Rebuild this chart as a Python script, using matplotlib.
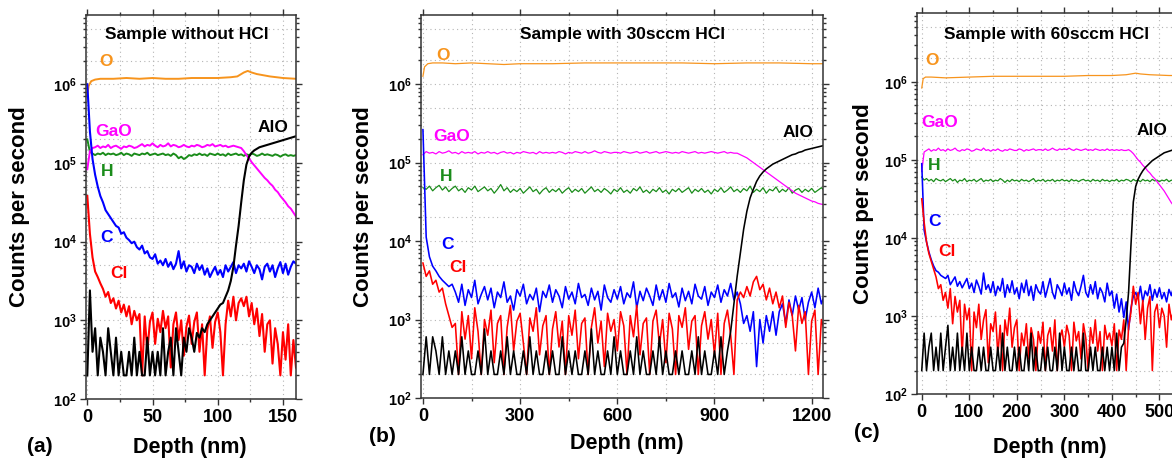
import numpy as np
import matplotlib
matplotlib.use("Agg")
import matplotlib.pyplot as plt
from matplotlib.ticker import FixedLocator, FuncFormatter, LogLocator, MultipleLocator

plt.rcParams['font.family'] = ['Liberation Sans', 'DejaVu Sans']
plt.rcParams['mathtext.fontset'] = 'custom'
plt.rcParams['mathtext.rm'] = 'Liberation Sans'
plt.rcParams['mathtext.bf'] = 'Liberation Sans:bold'

# ---------------- data (log10 of counts per second) ----------------
# panel (a): sample without HCl, depth grid 0..160 nm step 2
depth_a = np.arange(0, 161, 2)
a_o_depth = [0, 1, 3, 6, 10, 20, 30, 40, 50, 60, 70, 80, 90, 100, 110, 115, 120, 123, 126, 130, 140, 150, 160]
a_o = [5.86, 5.98, 6.04, 6.06, 6.07, 6.07, 6.08, 6.07, 6.08, 6.07, 6.07, 6.08, 6.08, 6.08,
       6.09, 6.10, 6.15, 6.17, 6.15, 6.13, 6.10, 6.08, 6.07]
a_gao = [4.92, 5.15, 5.19, 5.20, 5.22, 5.19, 5.21, 5.20, 5.23, 5.19,
         5.21, 5.22, 5.20, 5.18, 5.21, 5.20, 5.22, 5.21, 5.19, 5.20,
         5.22, 5.24, 5.21, 5.23, 5.22, 5.25, 5.22, 5.20, 5.23, 5.21,
         5.22, 5.25, 5.21, 5.23, 5.22, 5.20, 5.21, 5.23, 5.21, 5.20,
         5.22, 5.21, 5.23, 5.22, 5.20, 5.21, 5.23, 5.22, 5.24, 5.21,
         5.22, 5.23, 5.21, 5.22, 5.20, 5.21, 5.22, 5.21, 5.20, 5.19,
         5.15, 5.10, 5.06, 5.01, 4.97, 4.93, 4.89, 4.85, 4.81, 4.78,
         4.74, 4.71, 4.66, 4.63, 4.58, 4.54, 4.50, 4.45, 4.42, 4.37,
         4.32]
a_h = [5.30, 5.14, 5.12, 5.10, 5.12, 5.11, 5.13, 5.10, 5.12, 5.11,
       5.12, 5.10, 5.11, 5.13, 5.10, 5.12, 5.11, 5.09, 5.12, 5.11,
       5.10, 5.12, 5.11, 5.13, 5.10, 5.11, 5.12, 5.10, 5.11, 5.12,
       5.10, 5.11, 5.09, 5.12, 5.10, 5.06, 5.08, 5.05, 5.07, 5.10,
       5.09, 5.11, 5.10, 5.12, 5.10, 5.11, 5.09, 5.12, 5.11, 5.10,
       5.12, 5.10, 5.11, 5.09, 5.12, 5.10, 5.11, 5.12, 5.10, 5.11,
       5.09, 5.11, 5.10, 5.12, 5.11, 5.09, 5.10, 5.12, 5.10, 5.11,
       5.10, 5.09, 5.11, 5.10, 5.08, 5.10, 5.11, 5.09, 5.10, 5.09,
       5.10]
a_c = [6.00, 5.40, 5.05, 4.85, 4.70, 4.58, 4.50, 4.40, 4.35, 4.30,
       4.25, 4.20, 4.18, 4.10, 4.12, 4.05, 4.02, 3.98, 4.00, 3.93,
       3.90, 3.95, 3.85, 3.88, 3.80, 3.78, 3.84, 3.72, 3.76, 3.70,
       3.78, 3.68, 3.74, 3.65, 3.72, 3.88, 3.66, 3.75, 3.62, 3.70,
       3.68, 3.60, 3.72, 3.64, 3.70, 3.58, 3.66, 3.55, 3.62, 3.68,
       3.58, 3.64, 3.55, 3.70, 3.62, 3.68, 3.74, 3.60, 3.70, 3.66,
       3.72, 3.62, 3.75, 3.68, 3.60, 3.70, 3.65, 3.52, 3.68, 3.72,
       3.62, 3.70, 3.55, 3.66, 3.74, 3.60, 3.72, 3.58, 3.68, 3.75,
       3.72]
a_cl = [4.58, 4.10, 3.80, 3.62, 3.55, 3.47, 3.40, 3.30, 3.36, 3.22,
        3.28, 3.15, 3.25, 3.10, 3.20, 3.05, 3.18, 2.95, 3.12, 3.00,
        3.08, 2.30, 3.05, 2.60, 2.98, 3.10, 2.70, 3.02, 2.85, 3.12,
        2.90, 3.05, 2.40, 2.95, 3.10, 2.75, 3.00, 2.55, 2.92, 3.06,
        2.70, 2.98, 3.10, 2.60, 2.95, 2.30, 2.88, 3.05, 2.65, 2.98,
        3.10, 2.85, 2.30, 2.95, 3.25, 3.05, 3.30, 3.00, 3.22, 3.28,
        3.18, 3.30, 3.05, 3.22, 2.95, 3.15, 2.80, 3.08, 2.60, 2.95,
        3.00, 2.45, 2.90, 2.70, 2.30, 2.85, 2.50, 2.95, 2.30, 2.75,
        2.40]
a_alo = [2.30, 3.38, 2.60, 2.90, 2.30, 2.78, 2.60, 2.30, 2.90, 2.60,
         2.30, 2.78, 2.30, 2.60, 2.30, 2.30, 2.60, 2.30, 2.78, 2.30,
         2.60, 2.30, 2.30, 2.78, 2.30, 2.60, 2.30, 2.60, 2.30, 2.90,
         2.30, 2.60, 2.78, 2.30, 2.90, 2.60, 2.30, 2.78, 2.60, 2.90,
         2.78, 2.60, 2.84, 2.78, 2.90, 2.85, 2.95, 3.00, 3.05, 3.10,
         3.15, 3.20, 3.22, 3.30, 3.38, 3.50, 3.68, 3.95, 4.20, 4.50,
         4.78, 4.98, 5.08, 5.13, 5.16, 5.18, 5.20, 5.21, 5.22, 5.23,
         5.24, 5.25, 5.26, 5.27, 5.28, 5.29, 5.30, 5.31, 5.32, 5.33,
         5.34]

# panel (b): sample with 30sccm HCl, depth grid 0..1240 nm step 10
depth_b = np.arange(0, 1241, 10)
b_o_depth = [0, 5, 15, 30, 60, 100, 150, 200, 250, 300, 400, 500, 600, 700, 800, 900, 1000, 1100, 1200, 1240]
b_o = [6.10, 6.22, 6.26, 6.27, 6.27, 6.26, 6.27, 6.26, 6.25, 6.26, 6.26, 6.27, 6.27, 6.27,
       6.27, 6.26, 6.27, 6.27, 6.26, 6.26]
b_gao = [5.10, 5.14, 5.12, 5.13, 5.11, 5.14, 5.12, 5.13, 5.15, 5.12,
         5.13, 5.11, 5.14, 5.12, 5.13, 5.12, 5.14, 5.11, 5.13, 5.12,
         5.14, 5.12, 5.13, 5.11, 5.13, 5.14, 5.12, 5.13, 5.11, 5.13,
         5.12, 5.14, 5.13, 5.12, 5.13, 5.11, 5.14, 5.12, 5.13, 5.12,
         5.13, 5.12, 5.14, 5.13, 5.11, 5.13, 5.12, 5.14, 5.13, 5.12,
         5.14, 5.12, 5.13, 5.15, 5.13, 5.12, 5.14, 5.13, 5.12, 5.13,
         5.13, 5.12, 5.14, 5.13, 5.12, 5.13, 5.14, 5.12, 5.13, 5.14,
         5.12, 5.13, 5.14, 5.12, 5.13, 5.14, 5.13, 5.12, 5.13, 5.12,
         5.14, 5.13, 5.12, 5.13, 5.14, 5.12, 5.13, 5.12, 5.13, 5.14,
         5.13, 5.12, 5.13, 5.14, 5.12, 5.13, 5.12, 5.12, 5.10, 5.08,
         5.06, 5.03, 5.00, 4.97, 4.94, 4.91, 4.88, 4.85, 4.82, 4.79,
         4.76, 4.73, 4.70, 4.67, 4.64, 4.61, 4.59, 4.57, 4.55, 4.53,
         4.51, 4.50, 4.48, 4.47, 4.46]
b_h = [4.68, 4.66, 4.70, 4.64, 4.68, 4.71, 4.65, 4.69, 4.63, 4.67,
       4.70, 4.64, 4.67, 4.62, 4.68, 4.65, 4.70, 4.63, 4.66, 4.69,
       4.64, 4.67, 4.61, 4.66, 4.72, 4.64, 4.68, 4.62, 4.66, 4.63,
       4.67, 4.61, 4.65, 4.69, 4.63, 4.66, 4.60, 4.65, 4.68, 4.62,
       4.66, 4.63, 4.67, 4.61, 4.65, 4.68, 4.62, 4.66, 4.63, 4.67,
       4.61, 4.65, 4.69, 4.63, 4.66, 4.62, 4.67, 4.64, 4.60, 4.66,
       4.63, 4.68, 4.62, 4.65, 4.61, 4.67, 4.64, 4.69, 4.62, 4.65,
       4.61, 4.66, 4.63, 4.68, 4.62, 4.65, 4.60, 4.66, 4.63, 4.67,
       4.62, 4.65, 4.68, 4.61, 4.66, 4.63, 4.67, 4.62, 4.65, 4.60,
       4.66, 4.63, 4.68, 4.62, 4.65, 4.69, 4.63, 4.66, 4.62, 4.67,
       4.64, 4.70, 4.62, 4.66, 4.63, 4.68, 4.61, 4.66, 4.64, 4.69,
       4.62, 4.66, 4.63, 4.68, 4.61, 4.65, 4.67, 4.62, 4.66, 4.63,
       4.67, 4.62, 4.65, 4.68, 4.64]
b_c = [5.42, 4.05, 3.80, 3.68, 3.62, 3.55, 3.50, 3.46, 3.42, 3.45,
       3.35, 3.22, 3.45, 3.18, 3.38, 3.28, 3.50, 3.20, 3.32, 3.42,
       3.25, 3.40, 3.15, 3.35, 3.28, 3.48, 3.22, 3.30, 3.12, 3.38,
       3.30, 3.45, 3.20, 3.32, 3.25, 3.40, 3.10, 3.36, 3.28, 3.44,
       3.22, 3.38, 3.30, 3.15, 3.42, 3.26, 3.35, 3.20, 3.46, 3.28,
       3.32, 3.18, 3.40, 3.25, 3.36, 3.12, 3.44, 3.28, 3.22, 3.38,
       3.26, 3.42, 3.20, 3.34, 3.28, 3.48, 3.15, 3.36, 3.24, 3.40,
       3.30, 3.18, 3.44, 3.25, 3.38, 3.22, 3.46, 3.28, 3.34, 3.16,
       3.40, 3.24, 3.36, 3.20, 3.45, 3.30, 3.26, 3.42, 3.18, 3.35,
       3.28, 3.44, 3.22, 3.38, 3.30, 3.46, 3.25, 3.35, 3.20, 2.95,
       3.05, 2.85, 3.10, 2.40, 3.00, 2.70, 3.05, 2.85, 3.10, 2.80,
       3.10, 3.20, 2.95, 3.25, 3.05, 3.30, 3.12, 3.28, 3.00, 3.22,
       3.35, 3.15, 3.40, 3.20, 3.32]
b_cl = [3.72, 3.55, 3.62, 3.45, 3.50, 3.35, 3.40, 3.20, 3.05, 2.90,
        2.95, 2.30, 3.10, 2.75, 3.05, 2.50, 3.15, 2.85, 2.30, 3.00,
        2.80, 3.12, 2.45, 2.95, 3.05, 2.30, 2.90, 3.18, 2.60, 2.98,
        3.08, 2.70, 2.30, 3.02, 2.85, 3.15, 2.55, 2.92, 3.05, 2.30,
        2.88, 3.10, 2.65, 2.98, 2.30, 3.05, 2.80, 3.12, 2.50, 2.95,
        3.02, 2.30, 2.90, 3.15, 2.70, 2.98, 2.40, 3.08, 2.85, 3.00,
        2.60, 3.10, 2.92, 2.30, 3.05, 2.78, 3.18, 2.55, 2.95, 3.02,
        2.30, 2.98, 3.12, 2.68, 3.00, 2.45, 3.08, 2.88, 2.30, 3.05,
        2.90, 3.15, 2.62, 2.98, 3.05, 2.30, 2.92, 3.10, 2.75, 3.00,
        2.55, 3.08, 2.30, 2.95, 3.12, 2.80, 2.30, 3.25, 3.35, 3.28,
        3.42, 3.30, 3.48, 3.55, 3.38, 3.45, 3.25, 3.40, 3.20, 3.35,
        3.15, 3.30, 2.90, 3.22, 3.05, 2.60, 3.18, 2.95, 3.10, 2.30,
        2.98, 3.12, 2.30, 3.00, 2.85]
b_alo = [2.30, 2.78, 2.30, 2.78, 2.60, 2.30, 2.78, 2.30, 2.60, 2.30,
         2.60, 2.30, 2.78, 2.30, 2.60, 2.30, 2.30, 2.60, 2.30, 2.88,
         2.30, 2.60, 2.30, 2.30, 2.60, 2.30, 2.78, 2.30, 2.60, 2.30,
         2.30, 2.60, 2.30, 2.78, 2.30, 2.60, 2.30, 2.30, 2.60, 2.30,
         2.60, 2.30, 2.30, 2.78, 2.30, 2.60, 2.30, 2.60, 2.30, 2.30,
         2.60, 2.30, 2.88, 2.30, 2.60, 2.30, 2.30, 2.60, 2.30, 2.78,
         2.30, 2.60, 2.30, 2.30, 2.60, 2.30, 2.78, 2.30, 2.60, 2.30,
         2.30, 2.60, 2.30, 2.78, 2.30, 2.60, 2.30, 2.30, 2.60, 2.30,
         2.60, 2.30, 2.30, 2.60, 2.30, 2.78, 2.30, 2.60, 2.30, 2.30,
         2.60, 2.30, 2.78, 2.30, 2.60, 2.85, 3.20, 3.55, 3.85, 4.15,
         4.38, 4.55, 4.66, 4.76, 4.83, 4.88, 4.92, 4.95, 4.98, 5.00,
         5.02, 5.04, 5.06, 5.08, 5.10, 5.11, 5.13, 5.14, 5.16, 5.17,
         5.18, 5.19, 5.20, 5.21, 5.22]

# panel (c): sample with 60sccm HCl, depth grid 0..600 nm step 5
depth_c = np.arange(0, 601, 5)
c_o_depth = [0, 3, 8, 20, 50, 100, 150, 200, 250, 300, 350, 400, 430, 450, 460, 480, 520, 560, 600]
c_o = [5.92, 6.04, 6.06, 6.06, 6.05, 6.06, 6.07, 6.07, 6.07, 6.07, 6.08, 6.08, 6.09, 6.11,
       6.10, 6.09, 6.08, 6.08, 6.07]
c_gao = [4.85, 5.10, 5.12, 5.14, 5.11, 5.13, 5.12, 5.15, 5.12, 5.13,
         5.11, 5.14, 5.12, 5.13, 5.15, 5.12, 5.11, 5.13, 5.12, 5.14,
         5.13, 5.11, 5.12, 5.14, 5.13, 5.12, 5.15, 5.12, 5.13, 5.11,
         5.13, 5.12, 5.14, 5.12, 5.11, 5.13, 5.12, 5.14, 5.13, 5.12,
         5.12, 5.14, 5.13, 5.11, 5.13, 5.12, 5.13, 5.14, 5.12, 5.13,
         5.13, 5.12, 5.14, 5.12, 5.13, 5.15, 5.13, 5.12, 5.14, 5.13,
         5.14, 5.13, 5.15, 5.13, 5.12, 5.14, 5.13, 5.12, 5.13, 5.14,
         5.12, 5.13, 5.12, 5.14, 5.13, 5.12, 5.13, 5.12, 5.14, 5.12,
         5.13, 5.12, 5.13, 5.12, 5.13, 5.12, 5.12, 5.13, 5.11, 5.08,
         5.04, 5.00, 4.97, 4.93, 4.90, 4.86, 4.83, 4.79, 4.76, 4.72,
         4.68, 4.64, 4.60, 4.55, 4.50, 4.45, 4.41, 4.38, 4.35, 4.33,
         4.30, 4.28, 4.26, 4.24, 4.22, 4.21, 4.20, 4.18, 4.17, 4.16,
         4.15]
c_h = [4.78, 4.74, 4.76, 4.73, 4.75, 4.72, 4.76, 4.74, 4.73, 4.75,
       4.72, 4.74, 4.76, 4.73, 4.75, 4.71, 4.74, 4.73, 4.76, 4.72,
       4.74, 4.73, 4.75, 4.72, 4.74, 4.76, 4.72, 4.74, 4.73, 4.75,
       4.72, 4.74, 4.73, 4.76, 4.74, 4.71, 4.74, 4.72, 4.75, 4.73,
       4.74, 4.72, 4.75, 4.73, 4.74, 4.72, 4.74, 4.76, 4.72, 4.74,
       4.73, 4.75, 4.72, 4.74, 4.73, 4.75, 4.72, 4.74, 4.73, 4.75,
       4.73, 4.74, 4.72, 4.75, 4.73, 4.74, 4.72, 4.74, 4.75, 4.73,
       4.74, 4.72, 4.75, 4.73, 4.74, 4.72, 4.75, 4.73, 4.74, 4.72,
       4.74, 4.73, 4.75, 4.72, 4.74, 4.73, 4.75, 4.74, 4.72, 4.75,
       4.73, 4.74, 4.72, 4.75, 4.73, 4.74, 4.72, 4.75, 4.73, 4.74,
       4.72, 4.74, 4.73, 4.75, 4.72, 4.74, 4.73, 4.75, 4.72, 4.74,
       4.73, 4.75, 4.72, 4.74, 4.73, 4.75, 4.72, 4.74, 4.73, 4.75,
       4.74]
c_c = [4.95, 4.10, 3.95, 3.82, 3.72, 3.64, 3.58, 3.56, 3.52, 3.50,
       3.48, 3.52, 3.40, 3.45, 3.50, 3.38, 3.44, 3.36, 3.42, 3.48,
       3.35, 3.42, 3.30, 3.46, 3.38, 3.28, 3.55, 3.34, 3.40, 3.30,
       3.44, 3.26, 3.38, 3.32, 3.48, 3.24, 3.40, 3.30, 3.45, 3.28,
       3.36, 3.22, 3.42, 3.30, 3.46, 3.26, 3.38, 3.20, 3.40, 3.32,
       3.28, 3.44, 3.24, 3.36, 3.48, 3.30, 3.22, 3.40, 3.34, 3.26,
       3.42, 3.28, 3.36, 3.20, 3.44, 3.32, 3.26, 3.38, 3.52, 3.30,
       3.24, 3.40, 3.28, 3.44, 3.22, 3.36, 3.30, 3.18, 3.42, 3.26,
       3.32, 3.10, 3.28, 3.05, 3.22, 2.98, 3.18, 2.82, 3.10, 3.25,
       3.30, 3.22, 3.38, 3.18, 3.32, 3.26, 3.40, 3.20, 3.34, 3.24,
       3.36, 3.22, 3.30, 3.18, 3.34, 3.26, 3.38, 3.20, 3.32, 3.28,
       3.24, 3.36, 3.20, 3.32, 3.28, 3.38, 3.22, 3.30, 3.26, 3.34,
       3.30]
c_cl = [4.50, 4.20, 3.95, 3.80, 3.70, 3.60, 3.50, 3.35, 3.40, 3.20,
        3.30, 3.10, 3.35, 2.90, 3.25, 3.05, 3.20, 2.50, 3.15, 2.95,
        3.10, 2.30, 3.05, 2.85, 3.15, 2.70, 2.95, 3.08, 2.40, 2.90,
        2.80, 3.05, 2.50, 2.88, 2.30, 2.95, 2.75, 3.10, 2.60, 2.85,
        2.95, 2.30, 2.78, 2.62, 2.90, 2.45, 2.85, 2.70, 2.30, 2.80,
        2.65, 2.92, 2.30, 2.75, 2.85, 2.55, 2.95, 2.30, 2.70, 2.82,
        2.60, 2.88, 2.75, 2.30, 2.92, 2.68, 2.80, 2.45, 2.90, 2.72,
        2.30, 2.85, 2.65, 2.95, 2.55, 2.80, 2.30, 2.88, 2.70, 2.78,
        2.62, 2.90, 2.30, 2.82, 2.70, 2.95, 2.30, 2.85, 3.05, 3.38,
        3.15, 3.30, 2.90, 3.20, 2.70, 3.10, 3.25, 2.30, 3.05, 3.15,
        2.85, 3.10, 3.00, 2.60, 3.15, 2.95, 3.08, 2.75, 3.02, 2.90,
        3.05, 2.80, 3.10, 2.55, 2.98, 3.08, 2.85, 3.00, 2.70, 2.95,
        2.90]
c_alo = [2.30, 2.78, 2.30, 2.60, 2.78, 2.30, 2.60, 2.30, 2.78, 2.30,
         2.60, 2.88, 2.30, 2.60, 2.30, 2.78, 2.30, 2.60, 2.30, 2.78,
         2.30, 2.60, 2.30, 2.30, 2.60, 2.30, 2.60, 2.30, 2.30, 2.60,
         2.30, 2.30, 2.60, 2.30, 2.78, 2.30, 2.60, 2.30, 2.30, 2.60,
         2.30, 2.60, 2.30, 2.30, 2.60, 2.30, 2.78, 2.30, 2.60, 2.30,
         2.30, 2.60, 2.30, 2.60, 2.30, 2.30, 2.60, 2.30, 2.78, 2.30,
         2.60, 2.30, 2.30, 2.60, 2.30, 2.60, 2.30, 2.30, 2.78, 2.30,
         2.30, 2.60, 2.30, 2.60, 2.30, 2.30, 2.60, 2.30, 2.60, 2.30,
         2.60, 2.30, 2.78, 2.30, 2.60, 2.65, 2.95, 3.30, 3.90, 4.46,
         4.66, 4.75, 4.81, 4.86, 4.90, 4.93, 4.96, 4.99, 5.01, 5.03,
         5.05, 5.07, 5.09, 5.10, 5.11, 5.12, 5.13, 5.14, 5.15, 5.16,
         5.17, 5.17, 5.18, 5.19, 5.19, 5.20, 5.20, 5.21, 5.21, 5.22,
         5.22]

titles = ['Sample without HCl', 'Sample with 30sccm HCl', 'Sample with 60sccm HCl']
panel_tags = ['(a)', '(b)', '(c)']
species = ['O', 'GaO', 'H', 'C', 'Cl', 'AlO']
colors = {'O': '#F7941D', 'GaO': '#FF00FF', 'H': '#1A8C1A', 'C': '#0000FF', 'Cl': '#FF0000', 'AlO': '#000000'}

# ---------------- figure ----------------
W, H = 1172, 458
fig = plt.figure(figsize=(W / 100, H / 100), dpi=100)


def box(left, top, right, bottom):
    return fig.add_axes([left / W, 1 - bottom / H, (right - left) / W, (bottom - top) / H])


ax_a = box(86, 15, 296, 399)
ax_b = box(421, 15, 823, 398)
ax_c = box(917, 13, 1207, 394)

# (axes, depth grid, O trace, GaO, H, C, Cl, AlO, xlim, major, minor, smooth lw, noisy lw)
panels = [
    (ax_a, depth_a, (a_o_depth, a_o), a_gao, a_h, a_c, a_cl, a_alo, (-1, 160), 50, 25, 1.4, 1.5),
    (ax_b, depth_b, (b_o_depth, b_o), b_gao, b_h, b_c, b_cl, b_alo, (-6, 1235), 300, 150, 0.9, 1.15),
    (ax_c, depth_c, (c_o_depth, c_o), c_gao, c_h, c_c, c_cl, c_alo, (-10, 600), 100, 50, 0.9, 1.15),
]

for ax, depth, o_pair, gao, h, c, cl, alo, xlim, xmaj, xmin, lw, lw_noisy in panels:
    ax.plot(o_pair[0], 10 ** np.array(o_pair[1]), color=colors['O'], lw=lw)
    ax.plot(depth, 10 ** np.array(h), color=colors['H'], lw=lw)
    ax.plot(depth, 10 ** np.array(gao), color=colors['GaO'], lw=lw)
    ax.plot(depth, 10 ** np.array(c), color=colors['C'], lw=lw_noisy)
    ax.plot(depth, 10 ** np.array(cl), color=colors['Cl'], lw=lw_noisy)
    ax.plot(depth, 10 ** np.array(alo), color=colors['AlO'], lw=lw_noisy)

    ax.set_yscale('log')
    ax.set_ylim(1e2, 7.6e6)
    ax.set_xlim(*xlim)
    ax.yaxis.set_major_locator(FixedLocator([1e2, 1e3, 1e4, 1e5, 1e6]))
    ax.yaxis.set_minor_locator(LogLocator(base=10, subs=np.arange(2, 10)))
    ax.yaxis.set_major_formatter(FuncFormatter(lambda v, p: r'$\mathbf{10^{%d}}$' % round(np.log10(v))))
    ax.yaxis.set_minor_formatter(FuncFormatter(lambda v, p: ''))
    ax.xaxis.set_major_locator(MultipleLocator(xmaj))
    ax.xaxis.set_minor_locator(MultipleLocator(xmin))

    ax.tick_params(which='both', direction='out', top=True, right=True, width=1, color='#333333')
    ax.tick_params(which='major', length=4.5, pad=3)
    ax.tick_params(which='minor', length=2.5)
    ax.tick_params(axis='x', labelsize=13)
    ax.tick_params(axis='y', labelsize=10.5, pad=2)
    for lab in ax.get_xticklabels():
        lab.set_fontweight('bold')
    for sp in ax.spines.values():
        sp.set_color('#333333')
        sp.set_linewidth(1.1)

    grid_kw = dict(color='#b5b5b5', lw=0.8, ls=(0, (1, 3)))
    ax.grid(which='major', **grid_kw)
    ax.grid(which='minor', axis='x', **grid_kw)
    for dec in [1e2, 1e3, 1e4, 1e5, 1e6]:
        for m in (2, 5):
            ax.axhline(dec * m, zorder=0, **grid_kw)
    ax.set_axisbelow(True)

# species labels (depth, log10 counts)
label_pos = [
    {'O': (14, 6.29), 'GaO': (20, 5.40), 'H': (15, 4.89), 'C': (15, 4.05), 'Cl': (24, 3.60), 'AlO': (142, 5.45)},
    {'O': (62, 6.36), 'GaO': (89, 5.33), 'H': (73, 4.82), 'C': (77, 3.95), 'Cl': (108, 3.66), 'AlO': (1157, 5.38)},
    {'O': (21, 6.27), 'GaO': (38, 5.48), 'H': (27, 4.93), 'C': (27, 4.21), 'Cl': (52, 3.83), 'AlO': (484, 5.38)},
]
for ax, pos in zip([ax_a, ax_b, ax_c], label_pos):
    for sp in species:
        x, ly = pos[sp]
        ax.text(x, 10 ** ly, sp, color=colors[sp], fontsize=12.5, fontweight='bold',
                ha='center', va='center')

# titles inside axes (pixel centres)
for (px, py), title in zip([(187, 35), (623, 35), (1047, 35)], titles):
    fig.text(px / W, 1 - py / H, title, fontsize=12.5, fontweight='bold', ha='center', va='center')

for px, py in [(20, 207), (363, 207), (863, 204)]:
    fig.text(px / W, 1 - py / H, 'Counts per second', fontsize=16, fontweight='bold',
             rotation=90, ha='center', va='center')
for px, py in [(190, 447), (627, 443), (1050, 447)]:
    fig.text(px / W, 1 - py / H, 'Depth (nm)', fontsize=15.5, fontweight='bold', ha='center', va='center')
for (px, py), tag in zip([(40, 447), (382, 437), (867, 433)], panel_tags):
    fig.text(px / W, 1 - py / H, tag, fontsize=15, fontweight='bold', ha='center', va='center')

fig.savefig('out.png', dpi=100)
